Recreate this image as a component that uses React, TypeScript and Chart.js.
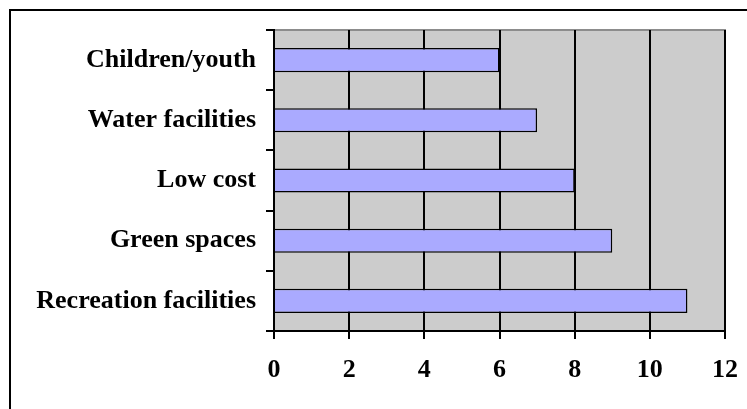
import React, { useEffect, useRef } from "react";
import { Chart, registerables } from "chart.js";

Chart.register(...registerables);

const categories = ["Children/youth", "Water facilities", "Low cost", "Green spaces", "Recreation facilities"];
const values = [6, 7, 8, 9, 11];
const xMin = 0;
const xMax = 12;
const xStep = 2;

const FONT = '"Liberation Serif", "Times New Roman", serif';

const framePlugin = {
  id: "frame",
  beforeDraw(chart: any) {
    const { ctx, chartArea } = chart;
    ctx.save();
    ctx.fillStyle = "#ffffff";
    ctx.fillRect(0, 0, chart.width, chart.height);
    // outer frame (top & left visible)
    ctx.strokeStyle = "#000000";
    ctx.lineWidth = 2;
    ctx.beginPath();
    ctx.moveTo(10, chart.height);
    ctx.lineTo(10, 10);
    ctx.lineTo(chart.width, 10);
    ctx.stroke();
    // plot background
    ctx.fillStyle = "#CCCCCC";
    ctx.fillRect(chartArea.left, chartArea.top, chartArea.right - chartArea.left, chartArea.bottom - chartArea.top);
    ctx.strokeStyle = "#8C8C8C";
    ctx.lineWidth = 2;
    ctx.beginPath();
    ctx.moveTo(chartArea.left, chartArea.top);
    ctx.lineTo(chartArea.right, chartArea.top);
    ctx.lineTo(chartArea.right, chartArea.bottom);
    ctx.stroke();
    ctx.restore();
  },
};

export default function App() {
  const ref = useRef<HTMLCanvasElement | null>(null);
  useEffect(() => {
    if (!ref.current) return;
    const chart = new Chart(ref.current, {
      type: "bar",
      data: {
        labels: categories,
        datasets: [
          {
            data: values,
            backgroundColor: "#AAAAFF",
            borderColor: "#000000",
            borderWidth: 1.5,
            barPercentage: 0.4,
            categoryPercentage: 1,
          },
        ],
      },
      options: {
        indexAxis: "y",
        animation: false,
        responsive: false,
        maintainAspectRatio: false,
        layout: { padding: { left: 0, top: 30, right: 22, bottom: 0 } },
        plugins: { legend: { display: false }, tooltip: { enabled: false } },
        scales: {
          x: {
            min: xMin,
            max: xMax,
            ticks: {
              stepSize: xStep,
              color: "#000",
              font: { family: FONT, size: 26, weight: "bold" },
              padding: 16,
            },
            grid: { color: "#000", lineWidth: 2, tickLength: 8 },
            border: { color: "#000", width: 2 },
            afterFit: (s: any) => {
              s.height = 78;
              s.paddingLeft = 0;
              s.paddingRight = 0;
            },
          },
          y: {
            ticks: {
              color: "#000",
              font: { family: FONT, size: 26, weight: "bold" },
              padding: 10,
            },
            grid: { offset: true, drawOnChartArea: false, drawTicks: true, tickLength: 8, color: "#000", lineWidth: 2 },
            border: { color: "#000", width: 2 },
            afterFit: (s: any) => {
              s.width = 274;
              s.paddingTop = 0;
              s.paddingBottom = 0;
            },
          },
        },
      },
      plugins: [framePlugin],
    } as any);
    return () => chart.destroy();
  }, []);
  return (
    <div style={{ position: "absolute", left: 0, top: 0, width: 747, height: 409 }}>
      <canvas ref={ref} width={747} height={409} style={{ display: "block" }} />
    </div>
  );
}
